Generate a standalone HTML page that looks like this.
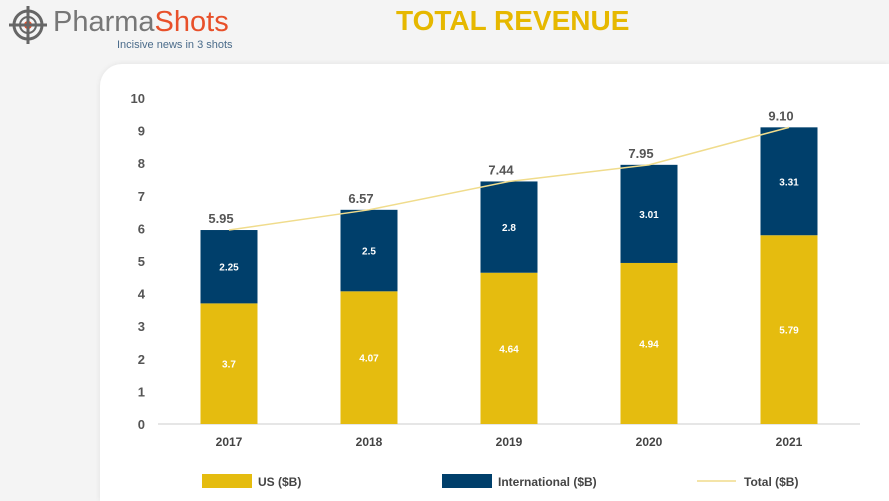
<!DOCTYPE html>
<html><head><meta charset="utf-8"><style>
html,body{margin:0;width:889px;height:501px;overflow:hidden}
body{background:#f4f4f4;font-family:"Liberation Sans",sans-serif;position:relative}
.card{position:absolute;left:100px;top:64px;width:789px;height:437px;background:#fff;border-radius:22px 0 0 0;box-shadow:0 0 6px rgba(0,0,0,.08)}
</style></head><body>
<div style="position:absolute;left:6px;top:4px;">
<svg width="46" height="42"><circle cx="22" cy="21" r="14" fill="none" stroke="#666" stroke-width="3"/><circle cx="22" cy="21" r="8" fill="none" stroke="#666" stroke-width="2"/><circle cx="22" cy="21" r="4" fill="#e8502a"/><line x1="22" y1="2" x2="22" y2="40" stroke="#666" stroke-width="3"/><line x1="3" y1="21" x2="41" y2="21" stroke="#666" stroke-width="3"/></svg>
<div style="position:absolute;left:47px;top:2px;font-size:29px;white-space:nowrap;color:#777">Pharma<span style="color:#e8502a">Shots</span></div>
<div style="position:absolute;left:111px;top:35px;font-size:11px;white-space:nowrap;color:#4a6b8a">Incisive news in 3 shots</div>
</div>
<div style="position:absolute;left:396px;top:5px;font-size:28px;font-weight:bold;color:#e6b800">TOTAL REVENUE</div>
<div class="card"></div>
<svg id="c" width="889" height="501" style="position:absolute;left:0;top:0"></svg>
<script>
const years=["2017","2018","2019","2020","2021"];
const us=[3.7,4.07,4.64,4.94,5.79];
const intl=[2.25,2.5,2.8,3.01,3.31];
const total=[5.95,6.57,7.44,7.95,9.10];
const yTicks=[0,1,2,3,4,5,6,7,8,9,10];
const svg=document.getElementById('c');const NS='http://www.w3.org/2000/svg';
const y=v=>424-v*32.6;const x=i=>229+i*140;const bw=57;
function mk(t,a,txt){const e=document.createElementNS(NS,t);for(const k in a)e.setAttribute(k,a[k]);if(txt!==undefined)e.textContent=txt;svg.appendChild(e);return e;}
yTicks.forEach(v=>{const e=mk('text',{x:145,y:y(v)+5,'text-anchor':'end','font-size':13,'font-weight':'bold',fill:'#555'},v);

});
const ax=mk('line',{x1:158,y1:424,x2:860,y2:424,stroke:'#ccc','stroke-width':1});


years.forEach((yr,i)=>{
const b1=mk('rect',{x:x(i)-bw/2,y:y(us[i]),width:bw,height:us[i]*32.6,fill:'#e5bc0f'});


const b2=mk('rect',{x:x(i)-bw/2,y:y(us[i]+intl[i]),width:bw,height:intl[i]*32.6,fill:'#003f6b'});


const l1=mk('text',{x:x(i),y:y(us[i]/2)+4,'text-anchor':'middle','font-size':10,'font-weight':'bold',fill:'#fff'},us[i]);


const l2=mk('text',{x:x(i),y:y(us[i]+intl[i]/2)+4,'text-anchor':'middle','font-size':10,'font-weight':'bold',fill:'#fff'},intl[i]);


const l3=mk('text',{x:x(i)-8,y:y(total[i])-7,'text-anchor':'middle','font-size':13,'font-weight':'bold',fill:'#555'},total[i].toFixed(2));


const xl=mk('text',{x:x(i),y:446,'text-anchor':'middle','font-size':12,'font-weight':'bold',fill:'#444'},yr);


});
const ln=mk('polyline',{points:total.map((v,i)=>x(i)+','+y(v)).join(' '),fill:'none',stroke:'#f0dc8c','stroke-width':1.5});


const lg=[[202,'#e5bc0f','US ($B)','rect'],[442,'#003f6b','International ($B)','rect'],[697,'#f0dc8c','Total ($B)','line']];
lg.forEach(([lx,c,t,k])=>{
let m;if(k==='rect')m=mk('rect',{x:lx,y:474,width:50,height:14,fill:c});else m=mk('line',{x1:lx,y1:481,x2:lx+39,y2:481,stroke:c,'stroke-width':1.5});


const tx=mk('text',{x:lx+(k==='rect'?56:47),y:486,'font-size':12,'font-weight':'bold',fill:'#444'},t);


});
</script>
</body></html>
